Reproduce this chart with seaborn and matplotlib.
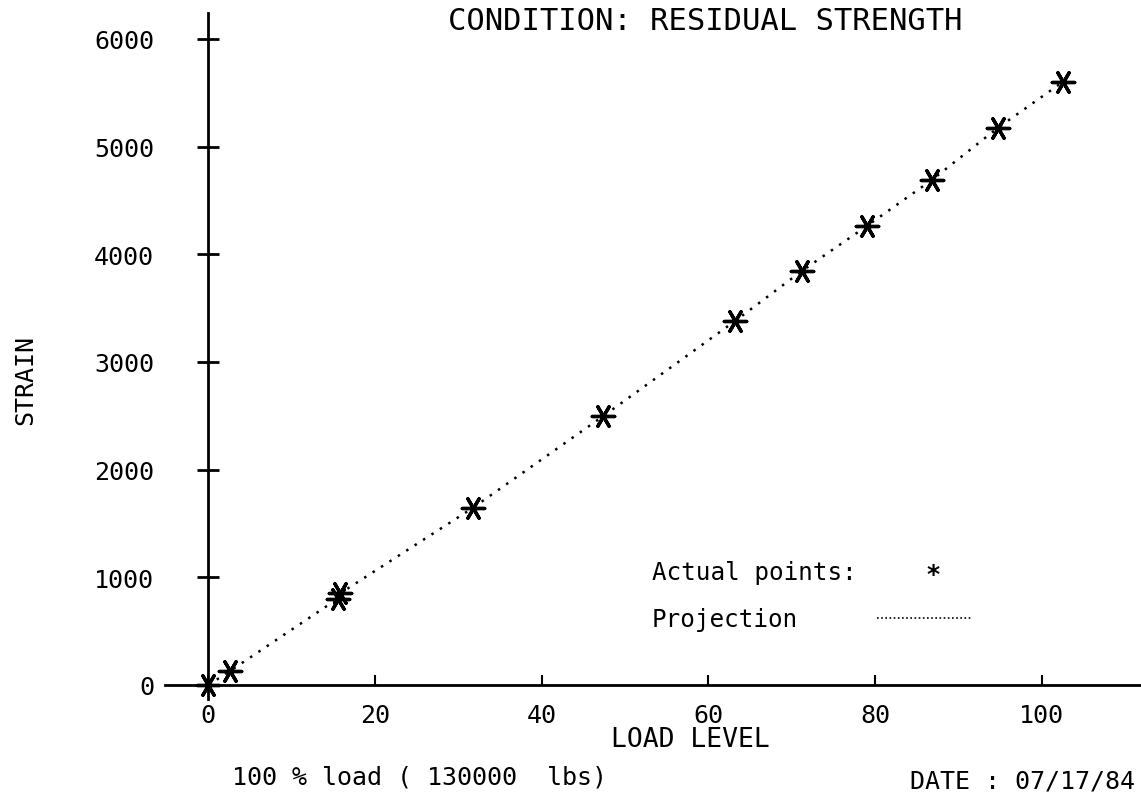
import numpy as np
import pandas as pd
import matplotlib
matplotlib.use("Agg")
import matplotlib.pyplot as plt
import seaborn as sns

# Data
load_level = [0, 2.6, 15.5, 15.8, 31.7, 47.4, 63.2, 71.2, 79.0, 86.8, 94.7, 102.5]
strain = [0, 130, 800, 850, 1643, 2498, 3380, 3844, 4262, 4689, 5172, 5599]
x_ticks = [0, 20, 40, 60, 80, 100]
y_ticks = [0, 1000, 2000, 3000, 4000, 5000, 6000]

df = pd.DataFrame({"load": load_level, "strain": strain})

sns.set_style("ticks")
plt.rcParams["font.family"] = ["DejaVu Sans Mono", "DejaVu Sans"]
plt.rcParams.update({"text.color": "black", "axes.edgecolor": "black",
                     "xtick.color": "black", "ytick.color": "black",
                     "axes.labelcolor": "black"})

W, H = 1141, 804
fig = plt.figure(figsize=(W / 100, H / 100), dpi=100)
ax = fig.add_axes([165 / W, 1 - 700 / H, (W - 165) / W, (700 - 14) / H])

# Projection (dotted) and actual points (asterisks)
sns.lineplot(data=df, x="load", y="strain", ax=ax, color="black",
             linestyle=(0, (1, 3)), linewidth=1.8, sort=True, estimator=None)
sns.scatterplot(data=df, x="load", y="strain", ax=ax, marker=(6, 2, 30),
                s=260, color="black", linewidth=2.4, zorder=3)

ax.set_xlim(-5.2, 111.9)
ax.set_ylim(-130, 6240)

ax.spines["left"].set_position(("data", 0))
ax.spines["bottom"].set_position(("data", 0))
ax.spines["top"].set_visible(False)
ax.spines["right"].set_visible(False)
for s in ["left", "bottom"]:
    ax.spines[s].set_linewidth(2)

ax.set_xticks(x_ticks)
ax.set_yticks(y_ticks)
ax.tick_params(axis="x", direction="in", length=7, width=1.5, pad=13, labelsize=18)
ax.tick_params(axis="y", direction="inout", length=16, width=2, pad=31, labelsize=18)
ax.set_xlabel("")
ax.set_ylabel("")

# Labels and annotations
fig.text(690 / W, 1 - 740 / H, "LOAD LEVEL", ha="center", va="center", fontsize=19)
fig.text(25 / W, 1 - 380 / H, "STRAIN", ha="center", va="center", rotation=90, fontsize=18)
fig.text(705 / W, 1 - 21 / H, "CONDITION: RESIDUAL STRENGTH", ha="center", va="center", fontsize=22)

fig.text(652 / W, 1 - 573 / H, "Actual points:", ha="left", va="center", fontsize=17.5)
fig.text(933 / W, 1 - 575 / H, "*", ha="center", va="center", fontsize=18, fontweight="bold")
fig.text(652 / W, 1 - 620 / H, "Projection", ha="left", va="center", fontsize=17.5)
fig.add_artist(plt.Line2D([877 / W, 972 / W], [1 - 619 / H, 1 - 619 / H],
                          color="black", linestyle=(0, (1, 1.5)), linewidth=1.2))

fig.text(232 / W, 1 - 778 / H, "100 % load ( 130000  lbs)", ha="left", va="center", fontsize=18)
fig.text(1135 / W, 1 - 782 / H, "DATE : 07/17/84", ha="right", va="center", fontsize=18)

fig.savefig("out.png", dpi=100, facecolor="white")
